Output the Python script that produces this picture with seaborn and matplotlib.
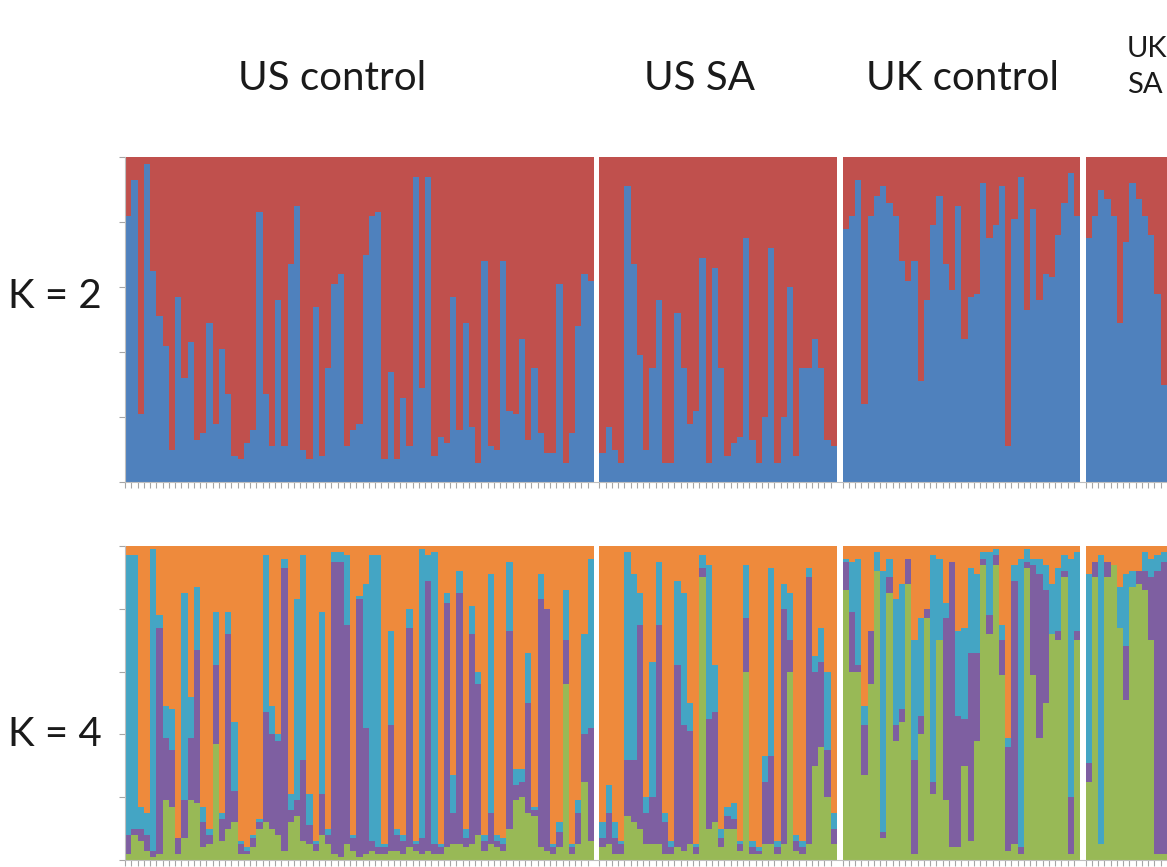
import numpy as np
import pandas as pd
import matplotlib.pyplot as plt
import seaborn as sns

sns.set_style('white')
plt.rcParams['font.family'] = ['Lato', 'DejaVu Sans']

groups = ['US control', 'US SA', 'UK control', 'UK SA']

# K = 2: share of the blue cluster per individual (red fills the rest)
usc_k2 = [0.82, 0.93, 0.21, 0.98, 0.65, 0.51, 0.42, 0.10, 0.57, 0.32,
          0.43, 0.13, 0.15, 0.49, 0.18, 0.41, 0.27, 0.08, 0.07, 0.12,
          0.16, 0.83, 0.27, 0.11, 0.56, 0.11, 0.67, 0.85, 0.10, 0.07,
          0.54, 0.08, 0.35, 0.61, 0.64, 0.11, 0.16, 0.18, 0.70, 0.82,
          0.83, 0.07, 0.34, 0.07, 0.26, 0.11, 0.94, 0.29, 0.94, 0.08,
          0.14, 0.12, 0.57, 0.16, 0.49, 0.17, 0.06, 0.68, 0.11, 0.10,
          0.68, 0.22, 0.21, 0.44, 0.13, 0.35, 0.15, 0.09, 0.09, 0.61,
          0.06, 0.15, 0.48, 0.64, 0.62]
ussa_k2 = [0.09, 0.17, 0.10, 0.06, 0.91, 0.67, 0.39, 0.10, 0.35, 0.56,
           0.06, 0.06, 0.52, 0.35, 0.18, 0.22, 0.69, 0.06, 0.66, 0.35,
           0.08, 0.12, 0.14, 0.75, 0.13, 0.06, 0.20, 0.72, 0.06, 0.20,
           0.60, 0.08, 0.35, 0.35, 0.44, 0.35, 0.13, 0.11]
ukc_k2 = [0.78, 0.82, 0.93, 0.24, 0.82, 0.88, 0.91, 0.86, 0.82, 0.68,
          0.62, 0.68, 0.31, 0.56, 0.79, 0.88, 0.67, 0.59, 0.85, 0.44,
          0.57, 0.58, 0.92, 0.75, 0.79, 0.91, 0.11, 0.81, 0.94, 0.53,
          0.84, 0.56, 0.64, 0.63, 0.76, 0.86, 0.95, 0.82]
uksa_k2 = [0.75, 0.82, 0.90, 0.87, 0.82, 0.49, 0.74, 0.92, 0.87, 0.82,
           0.76, 0.58, 0.30]

# K = 4: green, purple and teal shares (orange fills the rest)
usc_green = [.02, .08, .06, .03, .01, .02, .19, .17, .02, .07,
             .19, .18, .04, .05, .37, .06, .10, .12, .02, .02,
             .04, .10, .12, .10, .08, .03, .12, .14, .06, .05,
             .03, .08, .05, .02, .01, .05, .03, .01, .02, .03,
             .02, .02, .03, .03, .02, .04, .03, .02, .03, .02,
             .02, .04, .05, .05, .04, .05, .08, .03, .05, .04,
             .03, .10, .19, .20, .15, .14, .04, .03, .02, .04,
             .56, .02, .05, .25, .06]
usc_purple = [.06, .02, .04, .05, .02, .72, .20, .18, .05, .12,
              .20, .49, .08, .03, .25, .07, .62, .10, .03, .01,
              .03, .02, .35, .30, .30, .90, .04, .05, .26, .06,
              .02, .13, .03, .93, .94, .70, .04, .82, .40, .03,
              .02, .02, .40, .05, .04, .70, .02, .05, .86, .03,
              .02, .78, .10, .80, .03, .67, .48, .03, .10, .02,
              .02, .63, .05, .05, .35, .02, .79, .77, .02, .05,
              .14, .02, .10, .15, .36]
usc_teal = [.89, .87, .07, .07, .96, .04, .10, .13, .00, .66,
            .13, .20, .05, .02, .17, .02, .07, .22, .01, .01,
            .01, .01, .50, .09, .02, .03, .05, .64, .65, .10,
            .01, .58, .02, .03, .03, .22, .01, .01, .46, .91,
            .93, .01, .30, .02, .02, .06, .01, .92, .08, .93,
            .01, .03, .12, .07, .03, .09, .04, .02, .76, .02,
            .02, .22, .05, .04, .16, .01, .08, .00, .01, .03,
            .16, .01, .04, .32, .54]

ussa_green = [.04, .05, .02, .02, .14, .12, .10, .05, .05, .05,
              .02, .02, .04, .03, .05, .02, .90, .10, .12, .04,
              .10, .10, .03, .60, .02, .02, .05, .05, .02, .05,
              .60, .03, .02, .05, .30, .36, .20, .05]
ussa_purple = [.03, .10, .05, .03, .18, .20, .65, .10, .15, .70,
               .10, .02, .58, .40, .36, .02, .03, .35, .35, .03,
               .04, .03, .02, .17, .02, .01, .20, .28, .02, .75,
               .10, .03, .02, .85, .30, .27, .15, .05]
ussa_teal = [.05, .09, .05, .01, .66, .59, .10, .05, .43, .20,
             .03, .02, .27, .42, .09, .01, .04, .49, .15, .03,
             .03, .05, .01, .17, .02, .01, .08, .60, .02, .08,
             .15, .02, .02, .03, .05, .11, .25, .05]

ukc_green = [.86, .60, .60, .27, .56, .92, .07, .85, .38, .44,
             .88, .02, .40, .77, .21, .70, .19, .04, .04, .30,
             .06, .38, .94, .72, .94, .59, .03, .05, .02, .93,
             .59, .39, .50, .72, .70, .90, .02, .70]
ukc_purple = [.09, .19, .02, .16, .17, .00, .02, .05, .05, .04,
              .08, .30, .06, .03, .04, .00, .58, .91, .42, .15,
              .60, .28, .02, .06, .03, .11, .33, .84, .02, .02,
              .35, .52, .36, .00, .03, .02, .18, .03]
ukc_teal = [.01, .16, .34, .06, .00, .06, .83, .06, .40, .40,
            .00, .38, .31, .00, .72, .26, .05, .00, .27, .29,
            .27, .25, .02, .20, .02, .05, .03, .05, .92, .04,
            .02, .05, .08, .16, .20, .05, .76, .25]

uksa_green = [.25, .90, .05, .90, .94, .74, .51, .87, .88, .86, .70, .02, .02]
uksa_purple = [.06, .05, .00, .05, .00, .00, .17, .00, .04, .06, .20, .90, .93]
uksa_teal = [.60, .00, .92, .00, .00, .13, .23, .05, .00, .06, .06, .05, .03]

# build one long table, one row per individual
k2_all = [usc_k2, ussa_k2, ukc_k2, uksa_k2]
green_all = [usc_green, ussa_green, ukc_green, uksa_green]
purple_all = [usc_purple, ussa_purple, ukc_purple, uksa_purple]
teal_all = [usc_teal, ussa_teal, ukc_teal, uksa_teal]

gap = 0.9
rows = []
spans = []
start = 0.0
for g, k2, gr, pu, te in zip(groups, k2_all, green_all, purple_all, teal_all):
    n = len(k2)
    for i in range(n):
        rows.append({'group': g, 'x': start + i + 0.5, 'blue': k2[i],
                     'green': gr[i], 'purple': pu[i], 'teal': te[i]})
    spans.append((start, start + n))
    start += n + gap
df = pd.DataFrame(rows)
df['one'] = 1.0
df['gp'] = df['green'] + df['purple']
df['gpt'] = df['gp'] + df['teal']

RED, BLUE = '#C0504D', '#4F81BD'
ORANGE, TEAL, PURPLE, GREEN = '#EE8A3C', '#44A5C4', '#7E5FA1', '#98B956'

W, H = 1167, 867
fig = plt.figure(figsize=(W / 100, H / 100), dpi=100)
x_right = spans[-1][1]

def px_axes(left, top, bottom):
    return fig.add_axes([left / W, (H - bottom) / H, (W - left) / W, (bottom - top) / H])

ax1 = px_axes(125, 157, 482)
ax2 = px_axes(125, 546, 860)

def layer(ax, col, color):
    sns.barplot(data=df, x='x', y=col, native_scale=True, width=1.0, color=color,
                saturation=1, linewidth=0, errorbar=None, ax=ax)

layer(ax1, 'one', RED)
layer(ax1, 'blue', BLUE)
layer(ax2, 'one', ORANGE)
layer(ax2, 'gpt', TEAL)
layer(ax2, 'gp', PURPLE)
layer(ax2, 'green', GREEN)

for ax in (ax1, ax2):
    ax.set_xlim(0, x_right)
    ax.set_ylim(0, 1)
    ax.set_xlabel('')
    ax.set_ylabel('')
    ax.set_yticks(np.arange(0, 1.01, 0.2))
    ax.set_xticks(df['x'] - 0.5)
    ax.tick_params(axis='both', which='both', direction='out', length=4, width=0.8,
                   color='#a6a6a6', labelleft=False, labelbottom=False, left=True, bottom=True)
    for side in ('top', 'right'):
        ax.spines[side].set_visible(False)
    for side in ('left', 'bottom'):
        ax.spines[side].set_color('#bfbfbf')
        ax.spines[side].set_linewidth(0.8)

# header labels sit at fixed spots above their groups
txt = dict(fontsize=29, color='#1a1a1a', va='center')
fig.text(332 / W, 1 - 78 / H, 'US control', ha='center', **txt)
fig.text(699 / W, 1 - 78 / H, 'US SA', ha='center', **txt)
fig.text(962 / W, 1 - 78 / H, 'UK control', ha='center', **txt)
fig.text(1127 / W, 1 - 67 / H, 'UK\nSA', ha='left', linespacing=1.45,
         fontsize=21, color='#1a1a1a', va='center')
fig.text(55 / W, 1 - 296 / H, 'K = 2', ha='center', **txt)
fig.text(55 / W, 1 - 735 / H, 'K = 4', ha='center', **txt)

fig.savefig('out.png', dpi=100)
